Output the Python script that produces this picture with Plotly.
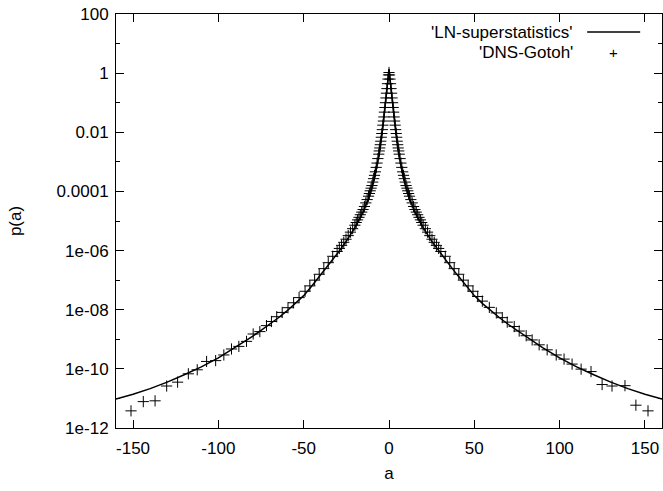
import plotly.graph_objects as go

# ---- LN-superstatistics curve ----
ln_a = [-160, -150, -140, -130, -120, -110, -100, -90, -80, -75, -70, -65, -60, -55,
        -50, -45, -40, -35, -30, -25, -20, -15, -12, -10, -8, -6, -5, -4, -3, -2,
        -1.5, -1, -0.5, 0, 0.5, 1, 1.5, 2, 3, 4, 5, 6, 8, 10, 12, 15, 20, 25, 30,
        35, 40, 45, 50, 55, 60, 65, 70, 75, 80, 90, 100, 110, 120, 130, 140, 150, 160]
ln_p = [9.5e-12, 1.38e-11, 2.14e-11, 3.55e-11, 6.3e-11, 1.17e-10, 2.34e-10, 5.25e-10,
        1.26e-9, 2.0e-9, 3.16e-9, 5.25e-9, 8.9e-9, 1.58e-8, 3.0e-8, 6.6e-8, 1.51e-7,
        3.55e-7, 8.3e-7, 2.09e-6, 6.0e-6, 2.14e-5, 5.75e-5, 1.32e-4, 3.8e-4, 1.51e-3,
        3.55e-3, 0.01, 0.0316, 0.11, 0.204, 0.38, 0.71, 1.32, 0.71, 0.38, 0.204, 0.11,
        0.0316, 0.01, 3.55e-3, 1.51e-3, 3.8e-4, 1.32e-4, 5.75e-5, 2.14e-5, 6.0e-6,
        2.09e-6, 8.3e-7, 3.55e-7, 1.51e-7, 6.6e-8, 3.0e-8, 1.58e-8, 8.9e-9, 5.25e-9,
        3.16e-9, 2.0e-9, 1.26e-9, 5.25e-10, 2.34e-10, 1.17e-10, 6.3e-11, 3.55e-11,
        2.14e-11, 1.38e-11, 9.5e-12]

# ---- DNS-Gotoh points ----
dns_a = [-151.2, -144.0, -137.1, -130.3, -123.9, -117.6, -112.4, -106.9, -101.6, -96.8,
         -92.3, -88.0, -83.5, -79.6, -75.7, -71.8, -68.9, -65.8, -62.6, -59.2, -55.9,
         -52.7, -49.2, -46.4, -43.6, -40.9, -38.2, -35.6, -33.0, -30.4, -29.1, -27.8,
         -26.5, -25.2, -23.9, -22.6, -21.3, -20.0, -19.2, -18.4, -17.6, -16.8, -16.0,
         -15.2, -14.4, -13.6, -12.8, -12.0, -11.5, -11.0, -10.5, -10.0, -9.5, -9.0,
         -8.5, -8.0, -7.5, -7.0, -6.5, -6.0, -5.7, -5.4, -5.1, -4.8, -4.5, -4.2, -3.9,
         -3.6, -3.3, -3.0, -2.7, -2.4, -2.1, -1.8, -1.5, -1.2, -0.9, -0.6, -0.3,
         0.0,
         0.3, 0.6, 0.9, 1.2, 1.5, 1.8, 2.1, 2.4, 2.7, 3.0, 3.3, 3.6, 3.9, 4.2, 4.5, 4.8,
         5.1, 5.4, 5.7, 6.0, 6.5, 7.0, 7.5, 8.0, 8.5, 9.0, 9.5, 10.0, 10.5, 11.0, 11.5,
         12.0, 12.8, 13.6, 14.4, 15.2, 16.0, 16.8, 17.6, 18.4, 19.2, 20.0, 21.3, 22.6,
         23.9, 25.2, 26.5, 27.8, 29.1, 30.4, 33.0, 35.6, 38.2, 40.9, 43.6, 46.4, 49.2,
         52.0, 54.7, 58.8, 62.9, 66.4, 69.3, 73.4, 76.3, 80.4, 83.9, 88.0, 92.7, 98.0,
         102.6, 107.3, 112.6, 118.4, 124.9, 130.7, 138.3, 144.7, 151.8]
dns_p = [3.8e-12, 7.8e-12, 8.3e-12, 2.63e-11, 3.55e-11, 6.8e-11, 9.3e-11, 1.78e-10,
         1.9e-10, 2.95e-10, 4.7e-10, 5.75e-10, 8.5e-10, 1.51e-9, 1.82e-9, 2.9e-9, 4.0e-9,
         5.8e-9, 8.1e-9, 1.17e-8, 1.72e-8, 2.57e-8, 4.2e-8, 6.4e-8, 1.0e-7, 1.58e-7,
         2.45e-7, 3.9e-7, 6.4e-7, 9.3e-7, 1.18e-6, 1.5e-6, 1.9e-6, 2.42e-6, 3.2e-6,
         4.2e-6, 5.5e-6, 7.2e-6, 8.9e-6, 1.09e-5, 1.33e-5, 1.63e-5, 2.0e-5, 2.44e-5,
         3.1e-5, 4.1e-5, 5.3e-5, 6.9e-5, 8.5e-5, 1.05e-4, 1.29e-4, 1.58e-4, 2.07e-4,
         2.7e-4, 3.5e-4, 4.6e-4, 6.5e-4, 9.1e-4, 1.29e-3, 1.82e-3, 2.34e-3, 2.95e-3,
         3.8e-3, 5.0e-3, 6.8e-3, 9.1e-3, 0.0123, 0.0174, 0.024, 0.033, 0.048, 0.069,
         0.1, 0.145, 0.21, 0.30, 0.44, 0.63, 0.87,
         1.05,
         0.87, 0.63, 0.44, 0.30, 0.21, 0.145, 0.1, 0.069, 0.048, 0.033, 0.024, 0.0174,
         0.0123, 9.1e-3, 6.8e-3, 5.0e-3, 3.8e-3, 2.95e-3, 2.34e-3, 1.82e-3, 1.29e-3,
         9.1e-4, 6.5e-4, 4.6e-4, 3.5e-4, 2.7e-4, 2.07e-4, 1.58e-4, 1.29e-4, 1.05e-4,
         8.5e-5, 6.9e-5, 5.3e-5, 4.1e-5, 3.1e-5, 2.44e-5, 2.0e-5, 1.63e-5, 1.33e-5,
         1.09e-5, 8.9e-6, 7.2e-6, 5.5e-6, 4.2e-6, 3.2e-6, 2.42e-6, 1.9e-6, 1.5e-6,
         1.18e-6, 9.3e-7, 6.4e-7, 3.9e-7, 2.45e-7, 1.58e-7, 1.0e-7, 6.4e-8, 4.2e-8,
         2.8e-8, 1.95e-8, 1.2e-8, 7.8e-9, 5.4e-9, 3.8e-9, 2.7e-9, 1.9e-9, 1.32e-9,
         9.5e-10, 6.5e-10, 4.4e-10, 2.95e-10, 2.14e-10, 1.45e-10, 9.8e-11, 8.1e-11,
         2.95e-11, 2.63e-11, 2.7e-11, 5.9e-12, 3.8e-12]

x_ticks = [-150, -100, -50, 0, 50, 100, 150]
x_tick_text = ["-150", "-100", "-50", "0", "50", "100", "150"]
y_ticks = [1e2, 1, 1e-2, 1e-4, 1e-6, 1e-8, 1e-10, 1e-12]
y_tick_text = ["100", "1", "0.01", "0.0001", "1e-06", "1e-08", "1e-10", "1e-12"]
y_minor = [1e1, 1e-1, 1e-3, 1e-5, 1e-7, 1e-9, 1e-11]

FONT = "Liberation Sans, Arial, Helvetica, sans-serif"
FS = 17

fig = go.Figure()
fig.add_trace(go.Scatter(x=ln_a, y=ln_p, mode="lines", name="'LN-superstatistics'",
                         line=dict(color="black", width=1.5), showlegend=False))
fig.add_trace(go.Scatter(x=dns_a, y=dns_p, mode="markers", name="'DNS-Gotoh'",
                         marker=dict(symbol="cross-thin", size=8, color="black",
                                     line=dict(color="black", width=1)),
                         showlegend=False))

# gnuplot-style key: text right-aligned, sample on the right
fig.add_annotation(xref="paper", yref="paper", x=0.841, y=0.9565, xanchor="right",
                   yanchor="middle", text="'LN-superstatistics'", showarrow=False,
                   font=dict(family=FONT, size=FS, color="black"))
fig.add_annotation(xref="paper", yref="paper", x=0.841, y=0.908, xanchor="right",
                   yanchor="middle", text="'DNS-Gotoh'", showarrow=False,
                   font=dict(family=FONT, size=FS, color="black"))
fig.add_shape(type="line", xref="paper", yref="paper", x0=0.863, x1=0.96,
              y0=0.9565, y1=0.9565, line=dict(color="black", width=1.5))
fig.add_annotation(xref="paper", yref="paper", x=0.912, y=0.908, xanchor="center",
                   yanchor="middle", text="+", showarrow=False,
                   font=dict(family=FONT, size=15, color="black"))

axis_common = dict(showline=True, linecolor="black", linewidth=1, mirror="allticks",
                   ticks="inside", ticklen=8, tickcolor="black", tickwidth=1,
                   showgrid=False, zeroline=False, ticklabeloverflow="allow",
                   tickfont=dict(family=FONT, size=FS, color="black"))

fig.update_xaxes(range=[-160, 160], tickvals=x_ticks, ticktext=x_tick_text,
                 ticklabelstandoff=5,
                 title=dict(text="a", font=dict(family=FONT, size=FS, color="black"),
                            standoff=9),
                 **axis_common)
fig.update_yaxes(type="log", range=[-12, 2], tickvals=y_ticks, ticktext=y_tick_text,
                 ticklabelstandoff=3,
                 title=dict(text="p(a)", font=dict(family=FONT, size=FS, color="black"),
                            standoff=30),
                 minor=dict(tickvals=y_minor, ticks="inside", ticklen=4,
                            tickcolor="black", tickwidth=1, showgrid=False),
                 **axis_common)

fig.update_layout(width=663, height=491, margin=dict(l=116, r=1, t=14, b=63),
                  paper_bgcolor="white", plot_bgcolor="white",
                  font=dict(family=FONT, size=FS, color="black"))

# remove the browser's default 8px body margin so the figure fills the window
fig.write_html("out.html", config={"displayModeBar": False},
               post_script="document.body.style.margin='0';document.body.style.overflow='hidden';")
